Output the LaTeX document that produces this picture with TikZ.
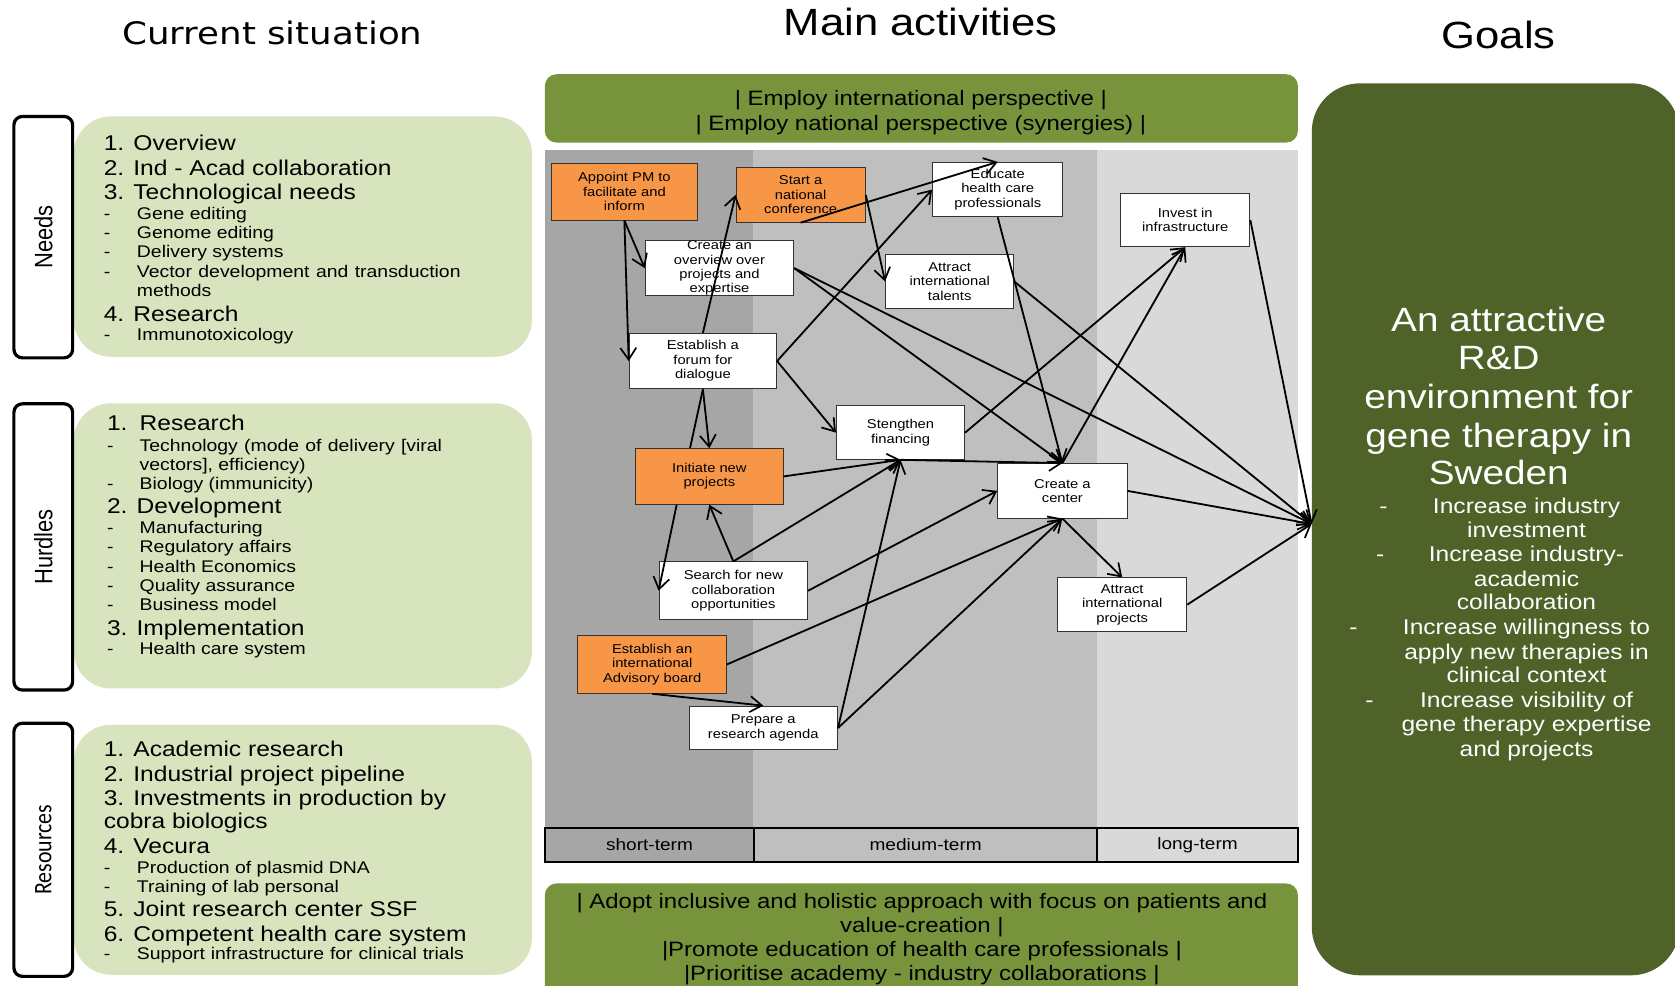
\documentclass[tikz,border=0pt]{standalone}
\usepackage{fontspec}
\setmainfont{Liberation Sans}[FakeStretch=1.15]
\newfontfamily\dejavu{DejaVu Sans}[FakeStretch=1.15]
\newfontfamily\carlito{Carlito}
\newfontfamily\plainsans{Liberation Sans}
\usetikzlibrary{arrows.meta,calc}
\definecolor{lgreen}{HTML}{D7E4BD}
\definecolor{olive}{HTML}{77933C}
\definecolor{dolive}{HTML}{4F6228}
\definecolor{orng}{HTML}{F79646}
\definecolor{gA}{HTML}{A6A6A6}
\definecolor{gB}{HTML}{BFBFBF}
\definecolor{gC}{HTML}{D9D9D9}
\tikzset{
 tag/.style={draw=black, line width=3pt, rounded corners=8pt, fill=white, inner sep=0pt},
 greenbox/.style={fill=lgreen, rounded corners=35pt, inner sep=0pt},
 big/.style={anchor=base west, inner sep=0pt, font=\fontsize{20}{23}\selectfont},
 small/.style={anchor=base west, inner sep=0pt, font=\fontsize{15.8}{18}\selectfont},
 actbox/.style={draw=black!80, line width=0.9pt, fill=white, inner sep=0pt},
 orbox/.style={actbox, fill=orng},
 boxtxt/.style={align=center, inner sep=0pt, font=\fontsize{12}{13.5}\selectfont},
 arr/.style={line width=1.7pt, -{Straight Barb[length=11pt,width=15pt,line width=1.6pt]}},
 plainline/.style={line width=1.7pt},
 gtitle/.style={anchor=base, inner sep=0pt, text=white, font=\fontsize{31.5}{36}\selectfont},
 gtext/.style={anchor=base, inner sep=0pt, text=white, font=\fontsize{20}{22}\selectfont},
 tl/.style={draw=black, line width=1.3pt, inner sep=0pt, font=\fontsize{15.5}{18}\selectfont},
 bar/.style={fill=olive, rounded corners=11pt, inner sep=0pt},
 bartxt/.style={anchor=base, inner sep=0pt, font=\fontsize{19.5}{22}\selectfont},
 head/.style={anchor=base, inner sep=0pt},
}
\newcommand\actnode[7]{%
 \node[#1, minimum width={#5-#3}, minimum height={#6-#4}, label={[boxtxt]center:{#7}}] (#2) at ({(#3+#5)/2},{(#4+#6)/2}) {};}
\begin{document}
\begin{tikzpicture}[x=1pt,y=-1pt]
\useasboundingbox (0,0) rectangle (1568,923);
\clip (0,0) rectangle (1568,923);
% headings
\node[head, font=\dejavu\fontsize{29}{34}\selectfont] (hcur) at (255,42) {Current situation};
\node[head, font=\fontsize{35.5}{40}\selectfont] (hmain) at (862,33) {Main activities};
\node[head, font=\fontsize{35.5}{40}\selectfont] (hgoal) at (1403,45) {Goals};
% left boxes
\node[greenbox, minimum width=429, minimum height=225] (needsbox) at (283.5,221.5) {};
\node[greenbox, minimum width=429, minimum height=267] (hurdbox) at (283.5,511) {};
\node[greenbox, minimum width=429, minimum height=234] (resbox) at (283.5,795.5) {};
\node[tag, minimum width=55, minimum height=226] (needs) at (40.5,222)
 {\rotatebox{90}{\scalebox{1}[1.15]{\plainsans\fontsize{20.5}{24}\selectfont Needs}}};
\node[tag, minimum width=55, minimum height=268] (hurdles) at (40.5,512)
 {\rotatebox{90}{\scalebox{1}[1.15]{\plainsans\fontsize{20.5}{24}\selectfont Hurdles}}};
\node[tag, minimum width=55, minimum height=237] (resources) at (40.5,795.5)
 {\rotatebox{90}{\scalebox{1}[1.15]{\carlito\fontsize{20.5}{24}\selectfont Resources}}};
% needs text
\node[big] (n1) at (97,141) {1. Overview};
\node[big] (n2) at (97,164) {2. Ind - Acad collaboration};
\node[big] (n3) at (97,187) {3. Technological needs};
\node[small] (n3ad) at (97,205.5) {-}; \node[small] (n3a) at (128,205.5) {Gene editing};
\node[small] (n3bd) at (97,223.5) {-}; \node[small] (n3b) at (128,223.5) {Genome editing};
\node[small] (n3cd) at (97,241.5) {-}; \node[small] (n3c) at (128,241.5) {Delivery systems};
\node[small] (n3dd) at (97,259.5) {-}; \node[small] (n3d) at (128,259.5) {\makebox[303pt][s]{Vector development and transduction}};
\node[small] (n3e) at (128,277.5) {methods};
\node[big] (n4) at (97,301) {4. Research};
\node[small] (n4ad) at (97,318.5) {-}; \node[small] (n4a) at (128,318.5) {Immunotoxicology};
% hurdles text
\node[big] (h1) at (100,403) {\makebox[30.6pt][l]{1.}Research};
\node[small] (h1ad) at (100,422.5) {-}; \node[small] (h1a) at (130.6,422.5) {\makebox[283pt][s]{Technology (mode of delivery [viral}};
\node[small] (h1b) at (130.6,440.5) {vectors], efficiency)};
\node[small] (h1cd) at (100,458.5) {-}; \node[small] (h1c) at (130.6,458.5) {Biology (immunicity)};
\node[big] (h2) at (100,481) {2. Development};
\node[small] (h2ad) at (100,499.5) {-}; \node[small] (h2a) at (130.6,499.5) {Manufacturing};
\node[small] (h2bd) at (100,517.5) {-}; \node[small] (h2b) at (130.6,517.5) {Regulatory affairs};
\node[small] (h2cd) at (100,535.5) {-}; \node[small] (h2c) at (130.6,535.5) {Health Economics};
\node[small] (h2dd) at (100,553.5) {-}; \node[small] (h2d) at (130.6,553.5) {Quality assurance};
\node[small] (h2ed) at (100,571.5) {-}; \node[small] (h2e) at (130.6,571.5) {Business model};
\node[big] (h3) at (100,595) {3. Implementation};
\node[small] (h3ad) at (100,612.5) {-}; \node[small] (h3a) at (130.6,612.5) {Health care system};
% resources text
\node[big] (r1) at (97,708) {1. Academic research};
\node[big] (r2) at (97,732) {2. Industrial project pipeline};
\node[big] (r3) at (97,754) {3. Investments in production by};
\node[big] (r3b) at (97,776) {cobra biologics};
\node[big] (r4) at (97,799) {4. Vecura};
\node[small] (r4ad) at (97,817.5) {-}; \node[small] (r4a) at (128,817.5) {Production of plasmid DNA};
\node[small] (r4bd) at (97,835.5) {-}; \node[small] (r4b) at (128,835.5) {Training of lab personal};
\node[big] (r5) at (97,858) {5. Joint research center SSF};
\node[big] (r6) at (97,881) {6. Competent health care system};
\node[small] (r6ad) at (97,898.5) {-}; \node[small] (r6a) at (128,898.5) {\makebox[306pt][s]{Support infrastructure for clinical trials}};
% middle panel
\fill[gA] (510,140) rectangle (705,775);
\fill[gB] (705,140) rectangle (1027,775);
\fill[gC] (1027,140) rectangle (1215,775);
\node[tl, fill=gA, minimum width=196, minimum height=32] (tshort) at (608,791) {short-term};
\node[tl, fill=gB, minimum width=321, minimum height=32] (tmed) at (866.5,791) {medium-term};
\node[tl, fill=gC, minimum width=188, minimum height=32] (tlong) at (1121,791) {long-term};
% green bars
\node[bar, minimum width=705, minimum height=64] (topbar) at (862.5,101.5) {};
\node[bartxt] (tb1) at (862,98.3) {| Employ international perspective |};
\node[bartxt] (tb2) at (862,121.7) {| Employ national perspective (synergies) |};
\node[bar, minimum width=705, minimum height=110] (botbar) at (862.5,882) {};
\node[bartxt] (bb1) at (863,850.4) {| Adopt inclusive and holistic approach with focus on patients and};
\node[bartxt] (bb2) at (863,873.2) {value-creation |};
\node[bartxt] (bb3) at (863,895.5) {|Promote education of health care professionals |};
\node[bartxt] (bb4) at (863,918) {|Prioritise academy - industry collaborations |};
% goals box
\node[fill=dolive, rounded corners=45pt, minimum width=344, minimum height=835, inner sep=0pt] (goals) at (1400,495.5) {};
\coordinate (goal) at ($(goals.west)+(0,-5)$);
\node[gtitle] (gt1) at (1403,310) {An attractive};
\node[gtitle] (gt2) at (1403,346) {R\&D};
\node[gtitle] (gt3) at (1403,382) {environment for};
\node[gtitle] (gt4) at (1403,419) {gene therapy in};
\node[gtitle] (gt5) at (1403,454) {Sweden};
\node[gtext] (gd1) at (1295,481) {-};
\node[gtext] (gb1) at (1429,481) {Increase industry};
\node[gtext] (gb2) at (1429,503) {investment};
\node[gtext] (gd2) at (1292,526) {-};
\node[gtext] (gb3) at (1429,526) {Increase industry-};
\node[gtext] (gb4) at (1429,549) {academic};
\node[gtext] (gb5) at (1429,571) {collaboration};
\node[gtext] (gd3) at (1267,594) {-};
\node[gtext] (gb6) at (1429,594) {Increase willingness to};
\node[gtext] (gb7) at (1429,617) {apply new therapies in};
\node[gtext] (gb8) at (1429,639) {clinical context};
\node[gtext] (gd4) at (1282,662) {-};
\node[gtext] (gb9) at (1429,662) {Increase visibility of};
\node[gtext] (gb10) at (1429,685) {gene therapy expertise};
\node[gtext] (gb11) at (1429,708) {and projects};
% activity boxes
\actnode{orbox}{pm}{516}{153}{653}{206}{Appoint PM to\\facilitate and\\inform}
\actnode{orbox}{conf}{689}{157}{810}{208}{Start a\\national\\conference}
\actnode{actbox}{edu}{873}{152}{995}{203}{Educate\\health care\\professionals}
\actnode{actbox}{over}{604}{225}{743}{277}{Create an\\overview over\\projects and\\expertise}
\actnode{actbox}{tal}{829}{238}{949}{289}{Attract\\international\\talents}
\actnode{actbox}{inv}{1049}{181}{1170}{231}{Invest in\\infrastructure}
\actnode{actbox}{forum}{589}{312}{727}{364}{Establish a\\forum for\\dialogue}
\actnode{actbox}{fin}{783}{380}{903}{430}{Stengthen\\financing}
\actnode{orbox}{init}{595}{420}{733}{472}{Initiate new\\projects}
\actnode{actbox}{ctr}{934}{434}{1055}{485}{Create a\\center}
\actnode{actbox}{search}{617}{526}{756}{580}{Search for new\\collaboration\\opportunities}
\actnode{actbox}{proj}{990}{541}{1111}{591}{Attract\\international\\projects}
\actnode{orbox}{adv}{541}{595}{680}{649}{Establish an\\international\\Advisory board}
\actnode{actbox}{prep}{645}{661}{784}{702}{Prepare a\\research agenda}
% connectors
\draw[arr] (pm.south) -- (over.west);
\draw[arr] (pm.south) -- (forum.west);
\draw[arr] (forum.north) -- (conf.west);
\draw[plainline] ($(init.north west)!0.37!(init.north east)$) -- (forum.south);
\draw[arr] (conf.south) -- (edu.north);
\draw[arr] (conf.east) -- (tal.west);
\draw[arr] (forum.east) -- (edu.west);
\draw[arr] (forum.east) -- (fin.west);
\draw[arr] (forum.south) -- (init.north);
\draw[arr] (init.east) -- (fin.south);
\draw[arr] (search.north) -- (init.south);
\draw[arr] (search.north) -- (fin.south);
\draw[arr] ($(init.south west)!0.28!(init.south east)$) -- (search.west);
\draw[arr] (search.east) -- (ctr.west);
\draw[arr] (adv.east) -- (ctr.south);
\draw[arr] (adv.south) -- (prep.north);
\draw[arr] (prep.east) -- (fin.south);
\draw[arr] (prep.east) -- (ctr.south);
\draw[arr] (fin.south) -- (ctr.north);
\draw[arr] (over.east) -- (ctr.north);
\draw[arr] (over.east) -- (goal);
\draw[arr] (edu.south) -- (ctr.north);
\draw[arr] (tal.east) -- (goal);
\draw[arr] (fin.east) -- (inv.south);
\draw[arr] (ctr.north) -- (inv.south);
\draw[arr] (inv.east) -- (goal);
\draw[arr] (ctr.east) -- (goal);
\draw[arr] (ctr.south) -- (proj.north);
\draw[arr] (proj.east) -- (goal);
\end{tikzpicture}
\end{document}
